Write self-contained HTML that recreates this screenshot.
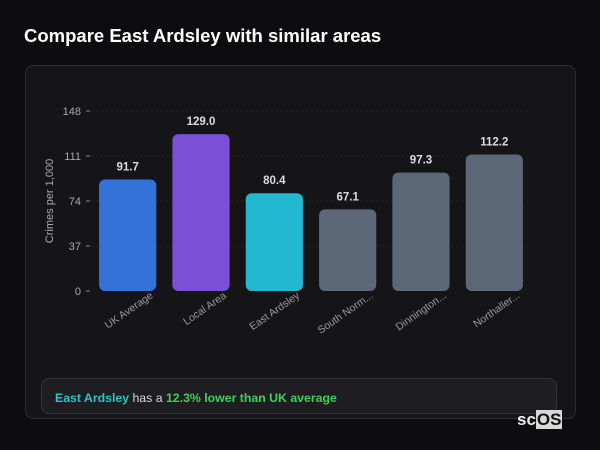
<!DOCTYPE html>
<html><head><meta charset="utf-8"><style>
body{margin:0;width:600px;height:450px;background:#0d0d10;font-family:"Liberation Sans","DejaVu Sans",sans-serif;position:relative;overflow:hidden}
h1{position:absolute;left:24px;top:25px;margin:0;font-size:18.5px;font-weight:bold;color:#fff}
.card{position:absolute;left:25px;top:65px;width:549px;height:352px;border:1px solid #2c2c31;border-radius:8px;background:#151518}
.sum{position:absolute;left:41px;top:378px;width:516px;height:36px;border:1px solid #34343a;border-radius:8px;background:#1e1e22;color:#d8d8dc;font-size:12.3px;line-height:38px;box-sizing:border-box;padding-left:13px}
.logo{position:absolute;left:517px;top:410px;font-size:17px;font-weight:bold;color:#eee}
.logo span{background:#d8d8d8;color:#111;padding:0 1px}
</style></head><body>
<h1>Compare East Ardsley with similar areas</h1>
<div class="card"></div>
<svg id="chart" width="600" height="450" style="position:absolute;left:0;top:0"></svg>
<div class="sum"><b style="color:#2ec4c4">East Ardsley</b> has a <b style="color:#3ecf5a">12.3% lower than UK average</b></div>
<div class="logo">sc<span>OS</span></div>
<script>
const categories=["UK Average","Local Area","East Ardsley","South Norm...","Dinnington...","Northaller..."];
const values=[91.7,129.0,80.4,67.1,97.3,112.2];
const colors=["#3272d9","#7b4fd6","#22b8cf","#5c6778","#5c6778","#5c6778"];
const ticks=[0,37,74,111,148];
const svg=document.getElementById('chart');const NS="http://www.w3.org/2000/svg";
const x0=91,x1=531,y0=291,y1=111,yMax=148;
const band=(x1-x0)/categories.length;
const y=v=>y0-(v/yMax)*(y0-y1);
function mk(t,a){const e=document.createElementNS(NS,t);for(const k in a)e.setAttribute(k,a[k]);svg.appendChild(e);return e;}
ticks.forEach(t=>{
 if(t>0){const g=mk('line',{x1:x0,x2:x1,y1:y(t),y2:y(t),stroke:'#222227','stroke-dasharray':'2,3'});}
 const m=mk('line',{x1:86,x2:90,y1:y(t),y2:y(t),stroke:'#888'});
 const l=mk('text',{x:81,y:y(t)+4,'text-anchor':'end','font-size':11,fill:'#aaa'});l.textContent=t;
 
});
const yt=mk('text',{x:0,y:0,transform:'translate(53,201) rotate(-90)','text-anchor':'middle','font-size':11,fill:'#aaa'});yt.textContent='Crimes per 1,000';

categories.forEach((c,i)=>{
 const bw=band*0.78,cx=x0+band*(i+0.5);
 const r=mk('rect',{x:cx-bw/2,y:y(values[i]),width:bw,height:y0-y(values[i]),rx:6,fill:colors[i]});
 
 const v=mk('text',{x:cx,y:y(values[i])-9,'text-anchor':'middle','font-size':11.5,'font-weight':'bold',fill:'#ddd'});v.textContent=values[i].toFixed(1);
 
 const t=mk('text',{x:0,y:0,transform:`translate(${cx+26},${y0+6}) rotate(-35)`,'text-anchor':'end','font-size':10.5,fill:'#999'});t.textContent=c;
 
});
</script>
</body></html>
